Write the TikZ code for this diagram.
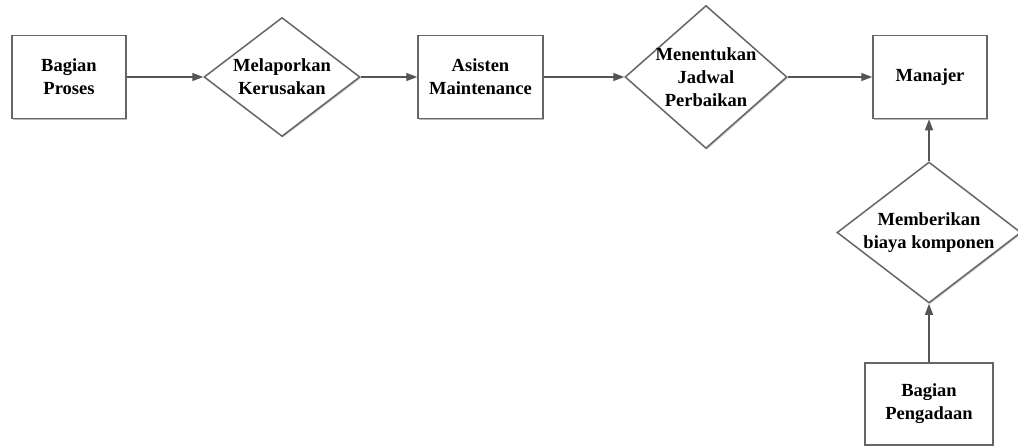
\documentclass[tikz,border=0pt]{standalone}
\usepackage{fontspec}
\setmainfont{Liberation Serif}
\usetikzlibrary{shapes.geometric,arrows.meta,shadows}
\definecolor{linegray}{HTML}{555555}
\definecolor{edgegray}{HTML}{666666}
\tikzset{
  lbl/.style={font=\bfseries\fontsize{18.5}{23}\selectfont, align=center, text=black},
  procbox/.style={draw=edgegray, line width=1.5pt, fill=white, rectangle, inner sep=0pt,
    drop shadow={shadow xshift=1.4pt, shadow yshift=-1.4pt, fill=gray!55, opacity=1},
    font=\bfseries\fontsize{18.5}{23}\selectfont, align=center},
  decbox/.style={draw=edgegray, line width=1.5pt, fill=white, diamond, inner sep=0pt,
    drop shadow={shadow xshift=1.2pt, shadow yshift=-1.2pt, fill=gray!40, opacity=1}},
  flow/.style={draw=linegray, line width=1.4pt, -{Triangle[length=11pt,width=8pt]}},
}
\begin{document}
\begin{tikzpicture}[x=1pt,y=-1pt]
\useasboundingbox (0,0) rectangle (1018,447);
\node[procbox, minimum width=114pt, minimum height=83pt] (b1) at (69,77) {Bagian\\Proses};
\node[decbox, minimum width=156pt, minimum height=119pt,
      label={[lbl]center:Melaporkan\\Kerusakan}] (d1) at (282,77) {};
\node[procbox, minimum width=125pt, minimum height=83pt] (b2) at (480.5,77) {Asisten\\Maintenance};
\node[decbox, minimum width=162pt, minimum height=143pt,
      label={[lbl]center:Menentukan\\Jadwal\\Perbaikan}] (d2) at (706,77) {};
\node[procbox, minimum width=114pt, minimum height=83pt] (b3) at (930,77) {Manajer};
\node[decbox, minimum width=184pt, minimum height=141pt,
      label={[lbl]center:Memberikan\\biaya komponen}] (d3) at (929,232.5) {};
\node[procbox, minimum width=128pt, minimum height=82pt] (b4) at (929,404) {Bagian\\Pengadaan};
\draw[flow] (b1) -- (d1);
\draw[flow] (d1) -- (b2);
\draw[flow] (b2) -- (d2);
\draw[flow] (d2) -- (b3);
\draw[flow] (d3) -- (b3.south -| d3);
\draw[flow] (b4) -- (d3);
\end{tikzpicture}
\end{document}
